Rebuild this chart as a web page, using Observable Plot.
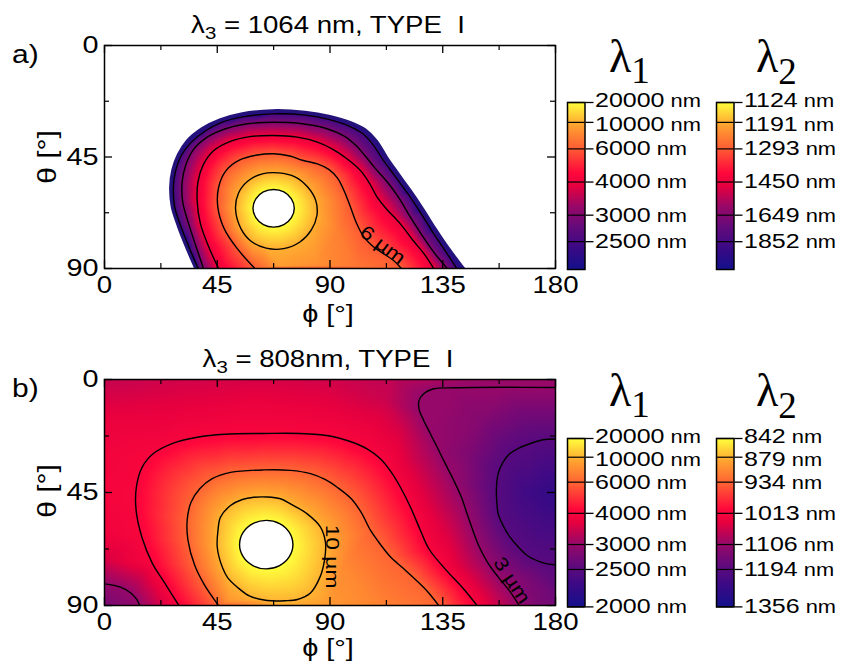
<!DOCTYPE html>
<html><head><meta charset="utf-8">
<script src="https://cdn.jsdelivr.net/npm/d3@7"></script>
<script src="https://cdn.jsdelivr.net/npm/@observablehq/plot@0.6"></script>
<style>
body{margin:0;background:#fff;}
#wrap{position:relative;width:851px;height:666px;overflow:hidden;background:#fff;}
#wrap svg{position:absolute;}
</style></head>
<body><div id="wrap"></div>
<script>
// ---------------- data ----------------
const xTicksMajor = [0, 45, 90, 135, 180];
const xTicksMinor = [22.5, 67.5, 112.5, 157.5];
const yTicksMajor = [0, 45, 90];
const yTicksMinor = [22.5, 67.5];
const PHI = [0, 180], THETA = [0, 90];

const lambda3 = ["1064 nm", "808nm"];
const panelTags = ["a)", "b)"];
const typeLabel = "TYPE  I";

// colour bars (nm)
const barA_lambda1 = [20000, 10000, 6000, 4000, 3000, 2500];
const barA_lambda2 = [1124, 1191, 1293, 1450, 1649, 1852];
const barA_bottom = 2128;
const barB_lambda1 = [20000, 10000, 6000, 4000, 3000, 2500, 2000];
const barB_lambda2 = [842, 879, 934, 1013, 1106, 1194, 1356];
const barB_bottom = 2000;

// palette (bottom -> top of colour bar)
const paletteT = [0, 0.12, 0.25, 0.38, 0.50, 0.58, 0.72, 0.86, 1];
const paletteC = ["#14108a", "#380a86", "#620a7c", "#9a0868", "#e6003f", "#ff083c", "#ff5a34", "#ffa030", "#ffff3c"];

// ---- panel a: traced contours [phi, theta]; level in um ----
const a_edge = [[39.4,97],[36.4,90],[33,82],[29.5,73],[27,65],[26.4,57],[27.3,50],[29.5,44],[33,38.5],[39,33.5],[46,30],[55,27.5],[67,26.3],[80,26.9],[90,28.6],[98,31],[104,34],[108.5,38.5],[112.5,45],[117,51.5],[122,58.5],[127,66],[132,74],[137,81.5],[143.3,90],[148.5,97]];
const a_L1 = [[37.4,90],[34,82],[30.5,73],[28,65],[27.5,57],[28.4,50.5],[30.6,44.5],[34.4,39.3],[40.2,34.5],[46.8,31],[55.8,28.7],[67.4,27.6],[80,28.1],[89.8,29.9],[97.4,32.4],[103,35.5],[107.3,40.2],[111.3,46.4],[116,52.8],[121.2,60],[126.2,67.6],[131.3,75.8],[135.8,82.6],[140.6,90]];
const a_L2 = [[39.5,90],[36.5,81],[33.6,72],[31.2,63],[31,55],[32.5,48],[35.5,42],[41,37],[48,33.7],[57,31.6],[67.6,31],[79,31.6],[88.5,33.5],[95.5,36.5],[100.5,40.5],[104,44.5],[108,49.5],[112.8,55],[117.5,61.5],[122.1,69.3],[127,77],[131.5,83.5],[136.8,90]];
const a_L3 = [[45.5,90],[41.5,81],[38.3,72],[37,63],[37.3,55],[39.5,48],[43.5,42.5],[50,38.8],[58,36.8],[67.6,36.3],[77,37],[85,39],[91,41.8],[96.5,45.5],[102.2,50.5],[106,56],[108.8,61.2],[113,66.5],[118.1,72],[123,78.5],[127.5,84],[131.4,90]];
const a_L4 = [[60,90],[53,82],[47.8,74],[45.2,65],[45.6,57],[48.5,50.5],[54,46.2],[61,44.2],[67.6,43.7],[74,44.6],[79,46.3],[85,47.8],[89.5,50],[93,53.5],[96,59.5],[98.2,65.3],[100.5,71.5],[103,76.5],[106.5,80.5],[111,83.8],[115,86.5],[118.5,90]];
const a_L5 = [[52.3,66],[53.5,59.5],[57.5,54.5],[63,51.8],[69.5,51.4],[76,53],[81,57],[84.3,62.5],[84.8,68.5],[82.5,74.5],[78,79.3],[71.5,82],[64.5,81.8],[58.5,79],[54.5,74]];
const a_hole = [[75.75,65.7],[74.6,61.9],[71.6,59.1],[67.5,58.1],[63.4,59.1],[60.4,61.9],[59.25,65.7],[60.4,69.5],[63.4,72.3],[67.5,73.3],[71.6,72.3],[74.6,69.5]];
const a_levels = [2.128, 2.5, 3, 4, 6, 10, 20];
// extra samples [phi, theta, lambda1 (um)]
const a_samples = [[67.5,65.7,40],[70,89,9.0],[85,88,8.2],[100,89,7.0],[110,88,6.4],[90,62,7.8],[93,75,7.4]];
const a_labels = [{phi: 111, theta: 80.5, text: "6 µm"}];

// ---- panel b ----
const b_A = [[29.7,90],[24,81],[19,73],[15,63],[12.6,52],[12.7,43],[15,35],[19.5,29.5],[27,25.5],[37,23],[48,21.8],[63.6,21.5],[78,21.5],[90,22.5],[97.5,24.5],[104.8,27.6],[110,31.5],[114.5,37],[118.1,42.9],[122.1,50.8],[126.1,60.1],[129.5,67.5],[136,75.5],[143,83],[148.7,90]];
const b_B = [[45.5,90],[40,82],[36,74],[33.3,64],[33,56],[34.5,49],[38,43.5],[43,39.5],[50.3,37],[63.6,36],[74.2,36.2],[82.2,37.5],[88,39.8],[93,43],[98.5,47.5],[102.5,53],[106.2,60.1],[110,65.5],[114,70.5],[119,75],[124.5,80],[129,84.5],[133.4,90]];
const b_C = [[45,66.8],[45.3,60],[46.3,54.8],[50.3,50.2],[55,47.8],[59.6,46.9],[65,46.8],[70.2,47.5],[74.2,49.5],[80.9,53.5],[86.2,58.8],[88.2,65],[87.8,72],[86,78.7],[82.2,85],[77,87.6],[72,88.1],[64.9,88],[58,86.3],[53,82.7],[49.2,79],[47,74.7]];
const b_hole = [[75.2,65.75],[73.77,60.92],[69.88,57.39],[64.55,56.1],[59.22,57.39],[55.33,60.92],[53.9,65.75],[55.33,70.58],[59.22,74.11],[64.55,75.4],[69.88,74.11],[73.77,70.58]];
const b_D = [[0,81.4],[6.4,82.7],[10.5,85],[12.8,87.5],[14.1,90]];
const b_E = [[180,3.2],[160,3.1],[140,3.3],[131,3.8],[127.4,5.7],[125.5,8.5],[125.6,12],[127.4,16.3],[130,21.5],[132.8,27],[136,33.5],[139.4,40.2],[142.5,47],[144.7,53.5],[147,60],[149.5,66.5],[153,73],[157,78.5],[161.5,84],[165.5,90]];
const b_F = [[180,23.7],[175,24],[170,25.5],[165,27.5],[161.7,29.6],[159,33],[157.1,37.6],[156.4,44.1],[156.6,49],[157.1,53.4],[159,58],[161.7,62.6],[165,66.5],[169.3,70.5],[175.4,73.1],[180,73.8]];
const b_levels = {A: 4, B: 6, C: 10, hole: 20, D: 3, E: 3, F: 2.5};
const b_samples = [
  [0,0,3.35],[30,0,3.45],[60,0,3.5],[90,0,3.45],[115,0,3.3],[150,0,3.05],[180,0,3.03],
  [0,15,3.7],[0,30,3.88],[0,45,3.95],[0,60,3.85],[0,72,3.5],[0,90,2.75],[22,90,3.45],
  [70,90,9.6],[90,90,8.3],[110,90,7.2],[125,90,6.5],[140,90,4.8],[157,90,3.4],[172,90,2.8],[180,90,2.72],
  [180,12,2.75],[180,45,2.2],[180,85,2.65],
  [30,10,3.65],[60,10,3.75],[90,12,3.7],[112,8,3.4],[118,20,3.5],
  [150,15,2.85],[165,12,2.75],[145,30,2.8],[168,45,2.3],[165,80,2.85],[138,60,3.45],
  [62,41.5,7.6],[50,88,8.3],[95,75,7.6],[64.55,65.75,40]
];
const b_labels = [{phi: 91, theta: 70.5, text: "10 µm", rot: 90}, {phi: 162.5, theta: 80, text: "3 µm", rot: 57}];

// ---------------- helpers ----------------
const FONT = "'Liberation Sans', Arial, Helvetica, sans-serif";
const SERIF = "'Liberation Serif', 'Times New Roman', serif";
const S = 1.2;  // horizontal stretch of the lettering
const wrap = document.getElementById("wrap");

function colorScale(fmax) {
  return {type: "linear", domain: paletteT.map(t => fmax + t * (0.05 - fmax)), range: paletteC, interpolate: "rgb", clamp: true};
}
function stretch(svg, s) {
  svg.querySelectorAll("text").forEach(t => {
    let tr = t.getAttribute("transform");
    if (!tr) {
      const x = +t.getAttribute("x") || 0, y = +t.getAttribute("y") || 0;
      t.removeAttribute("x"); t.removeAttribute("y");
      tr = `translate(${x},${y})`;
    }
    t.setAttribute("transform", tr + ` scale(${s},1)`);
  });
}
function place(el, left, top) {
  el.style.position = "absolute"; el.style.left = left + "px"; el.style.top = top + "px"; el.style.overflow = "visible";
  wrap.appendChild(el);
}
function toPoints(groups, samples) {
  const pts = [];
  for (const [arr, lam] of groups)
    for (const [x, y] of arr) if (y >= THETA[0] && y <= THETA[1] && x >= PHI[0] && x <= PHI[1]) pts.push({x, y, f: 1 / lam});
  for (const [x, y, lam] of samples) pts.push({x, y, f: 1 / lam});
  return pts;
}
const XY = {x: d => d[0], y: d => d[1]};
const openLine = arr => Plot.line(arr, {...XY, curve: "catmull-rom", stroke: "black", strokeWidth: 1.4, clip: true});
const closedLine = arr => Plot.line(arr, {...XY, curve: "catmull-rom-closed", stroke: "black", strokeWidth: 1.4, clip: true});

function panel(o) {
  const W = 600, H = 332, mL = 104, mR = 45, mT = 45, mB = o.mB;
  const fw = W - mL - mR, fh = H - mT - mB;
  const marks = [
    Plot.raster(o.pts, {x: "x", y: "y", fill: "f", interpolate: "barycentric", x1: PHI[0], x2: PHI[1], y1: THETA[0], y2: THETA[1]}),
    ...o.marks,
    Plot.frame({stroke: "black", strokeWidth: 1.5}),
    Plot.tickX(xTicksMajor, {x: d => d, insetTop: fh - 8, strokeWidth: 1.3}),
    Plot.tickX(xTicksMajor, {x: d => d, insetBottom: fh - 8, strokeWidth: 1.3}),
    Plot.tickX(xTicksMinor, {x: d => d, insetTop: fh - 5, strokeWidth: 1.2}),
    Plot.tickX(xTicksMinor, {x: d => d, insetBottom: fh - 5, strokeWidth: 1.2}),
    Plot.tickY(yTicksMajor, {y: d => d, insetRight: fw - 8, strokeWidth: 1.3}),
    Plot.tickY(yTicksMajor, {y: d => d, insetLeft: fw - 8, strokeWidth: 1.3}),
    Plot.tickY(yTicksMinor, {y: d => d, insetRight: fw - 5, strokeWidth: 1.2}),
    Plot.tickY(yTicksMinor, {y: d => d, insetLeft: fw - 5, strokeWidth: 1.2}),
    Plot.axisX({anchor: "bottom", ticks: xTicksMajor, tickSize: 0, tickPadding: 8, fontSize: 23, label: null, tickFormat: d => String(d)}),
    Plot.axisY({anchor: "left", ticks: yTicksMajor, tickSize: 0, tickPadding: 6, fontSize: 24, label: null, tickFormat: d => String(d)})
  ];
  const svg = Plot.plot({
    width: W, height: H, marginLeft: mL, marginRight: mR, marginTop: mT, marginBottom: mB,
    x: {domain: PHI}, y: {domain: THETA, reverse: true}, color: colorScale(o.fmax),
    style: {fontFamily: FONT, background: "transparent", overflow: "visible", color: "black"},
    marks
  });
  stretch(svg, S);
  place(svg, 0, o.top);
}

function colorbar(o) {
  const bw = 17.5, mL = 8, mT = 15, mB = 15, W = 165, H = o.h + mT + mB;
  const fTicks = o.lams.map(l => 1000 / l);
  const lab = new Map(fTicks.map((f, i) => [f, String(o.labels[i])]));
  const fmax = 1000 / o.bottom;
  const svg = Plot.plot({
    width: W, height: H, marginLeft: mL, marginRight: W - mL - bw, marginTop: mT, marginBottom: mB,
    x: {domain: [0, 1], axis: null}, y: {domain: [0.05, fmax], reverse: true},
    color: colorScale(fmax),
    style: {fontFamily: FONT, background: "transparent", overflow: "visible", color: "black"},
    marks: [
      Plot.raster({x1: 0, x2: 1, y1: 0.05, y2: fmax, width: 2, height: 300, fill: (x, y) => y}),
      Plot.ruleY(fTicks, {y: d => d, stroke: "black", strokeWidth: 1.2}),
      Plot.frame({stroke: "black", strokeWidth: 1.5}),
      Plot.axisY(fTicks, {anchor: "right", tickSize: 8, tickPadding: 2, tickFormat: d => lab.get(d), fontSize: 20, label: null, strokeWidth: 1.3})
    ]
  });
  const ns = "http://www.w3.org/2000/svg";
  const texts = Array.from(svg.querySelectorAll("text")).filter(t => /^\d+$/.test(t.textContent));
  texts.forEach((t, i) => {
    const num = t.textContent;
    t.textContent = "";
    const a = document.createElementNS(ns, "tspan"); a.textContent = num;
    const b = document.createElementNS(ns, "tspan"); b.textContent = "\u00a0nm"; b.setAttribute("font-size", "17.5");
    t.appendChild(a); t.appendChild(b);
    // the two topmost ticks sit very close: nudge their labels apart slightly
    const tr = t.getAttribute("transform") || "";
    if (i === 0) t.setAttribute("transform", tr + " translate(0,-2)");
    if (i === 1) t.setAttribute("transform", tr + " translate(0,2)");
  });
  stretch(svg, 1.25);
  place(svg, o.left - mL, o.top - mT);
}

// ---------------- panel a ----------------
const ptsA = toPoints([[a_edge, a_levels[0]], [a_L1, a_levels[1]], [a_L2, a_levels[2]], [a_L3, a_levels[3]], [a_L4, a_levels[4]], [a_L5, a_levels[5]], [a_hole, a_levels[6]]], a_samples);
const lo = [PHI[0] - 40, THETA[0] - 40], hi = [PHI[1] + 40, THETA[1] + 40];
const edgeEnds = [a_edge[0][0], a_edge[a_edge.length - 1][0]];
const coverA = [[lo[0], lo[1]], [hi[0], lo[1]], [hi[0], hi[1]], [edgeEnds[1], hi[1]], ...a_edge.slice().reverse(), [edgeEnds[0], hi[1]], [lo[0], hi[1]]];
panel({
  top: 0, mB: 64, fmax: 1 / a_levels[0], pts: ptsA,
  marks: [
    Plot.line(coverA, {...XY, curve: "catmull-rom", fill: "white", stroke: "none", clip: true}),
    Plot.line(a_edge, {...XY, curve: "catmull-rom", stroke: "#24137a", strokeWidth: 3, clip: true}),
    openLine(a_L1), openLine(a_L2), openLine(a_L3), openLine(a_L4),
    closedLine(a_L5),
    Plot.line(a_hole, {...XY, curve: "catmull-rom-closed", fill: "white", stroke: "black", strokeWidth: 1.4}),
    Plot.text(a_labels, {x: "phi", y: "theta", text: "text", rotate: 37, fontSize: 19, fill: "black"})
  ]
});

// ---------------- panel b ----------------
const ptsB = toPoints([[b_A, b_levels.A], [b_B, b_levels.B], [b_C, b_levels.C], [b_hole, b_levels.hole], [b_D, b_levels.D], [b_E, b_levels.E], [b_F, b_levels.F]], b_samples);
panel({
  top: 334, mB: 61, fmax: 1000 / barB_bottom, pts: ptsB,
  marks: [
    openLine(b_A), openLine(b_B), closedLine(b_C), openLine(b_D), openLine(b_E), openLine(b_F),
    Plot.line(b_hole, {...XY, curve: "catmull-rom-closed", fill: "white", stroke: "black", strokeWidth: 1.4}),
    Plot.text(b_labels, {x: "phi", y: "theta", text: "text", rotate: d => d.rot, fontSize: 19, fill: "black"})
  ]
});

// ---------------- colour bars ----------------
colorbar({left: 567, top: 102.3, h: 167, lams: barA_lambda1, labels: barA_lambda1, bottom: barA_bottom});
colorbar({left: 716, top: 102.3, h: 167, lams: barA_lambda1, labels: barA_lambda2, bottom: barA_bottom});
colorbar({left: 567, top: 438.3, h: 168.4, lams: barB_lambda1, labels: barB_lambda1, bottom: barB_bottom});
colorbar({left: 716, top: 438.3, h: 168.4, lams: barB_lambda1, labels: barB_lambda2, bottom: barB_bottom});

// ---------------- titles / labels ----------------
function overlay() {
  const parts = [];
  [0, 1].forEach(i => {
    const dy = i === 0 ? 0 : 334;
    parts.push(`<text transform="translate(328,${33 + dy}) scale(${S},1)" text-anchor="middle" font-size="23" style="white-space:pre">λ<tspan font-size="17" dy="6">3</tspan><tspan dy="-6"> = ${lambda3[i]}, ${typeLabel}</tspan></text>`);
    parts.push(`<text transform="translate(12,${63 + dy}) scale(${S},1)" font-size="25">${panelTags[i]}</text>`);
    parts.push(`<text transform="translate(56,${157 + dy}) rotate(-90) scale(${S},1)" text-anchor="middle" font-size="25">θ [°]</text>`);
    parts.push(`<text transform="translate(328,${322 + dy}) scale(${S},1)" text-anchor="middle" font-size="24">ϕ [°]</text>`);
    parts.push(`<text x="609" y="${72 + dy}" font-family="${SERIF}" font-size="46">λ<tspan font-size="37" dy="11">1</tspan></text>`);
    parts.push(`<text x="756" y="${72 + dy}" font-family="${SERIF}" font-size="46">λ<tspan font-size="37" dy="12">2</tspan></text>`);
  });
  const div = document.createElement("div");
  div.innerHTML = `<svg xmlns="http://www.w3.org/2000/svg" width="851" height="666" style="left:0;top:0;pointer-events:none;overflow:visible" font-family="${FONT}" fill="black">${parts.join("")}</svg>`;
  wrap.appendChild(div.firstChild);
}
overlay();
</script>
</body></html>
